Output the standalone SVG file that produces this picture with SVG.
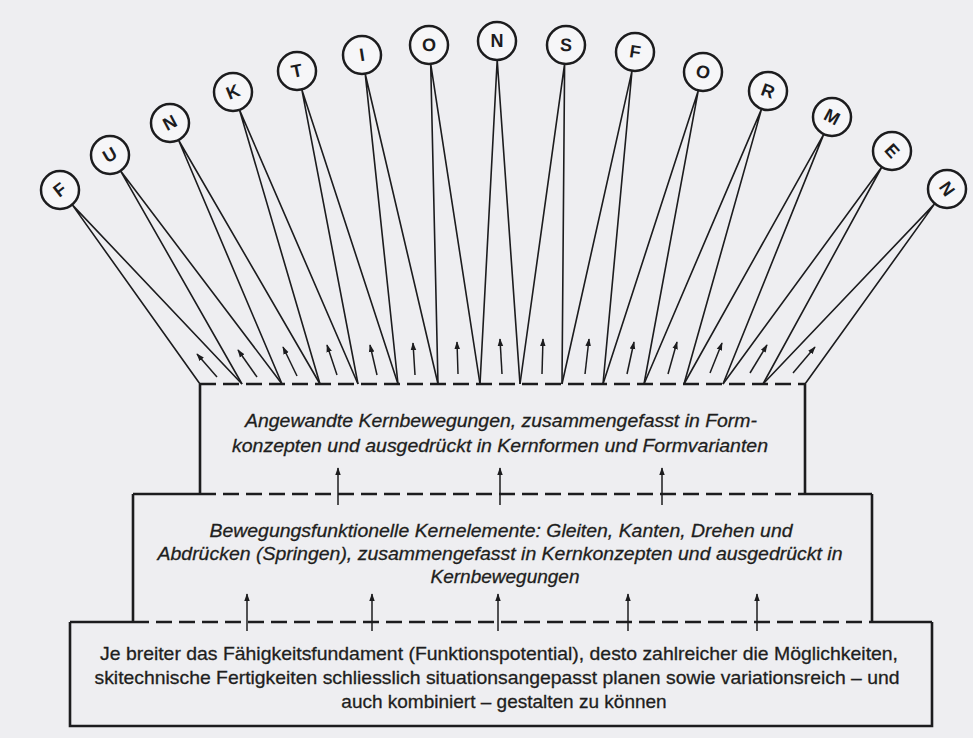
<svg xmlns="http://www.w3.org/2000/svg" width="973" height="738" viewBox="0 0 973 738">
  <defs>
    <marker id="ah" viewBox="0 0 10 10" refX="9" refY="5" markerWidth="8" markerHeight="8" markerUnits="userSpaceOnUse" orient="auto">
      <path d="M0,1.5 L10,5 L0,8.5 z" fill="#1c1c1e"/>
    </marker>
    <style>
      .box { fill: none; stroke: #1c1c1e; stroke-width: 2.6; }
      .dash { fill: none; stroke: #1c1c1e; stroke-width: 2.4; stroke-dasharray: 16 7; }
      .ray { stroke: #1c1c1e; stroke-width: 1.6; fill: none; }
      .arr { stroke: #1c1c1e; stroke-width: 1.5; fill: none; marker-end: url(#ah); }
      .node circle { fill: #f6f6f8; stroke: #1c1c1e; stroke-width: 2.5; }
      .node text { font-family: "Liberation Sans", Arial, sans-serif; font-weight: bold; font-size: 18px; fill: #1c1c1e; text-anchor: middle; dominant-baseline: central; }
      .it { font-family: "Liberation Sans", Arial, sans-serif; font-style: italic; font-size: 19px; fill: #1e1e20; stroke: #1e1e20; stroke-width: 0.3; text-anchor: middle; }
      .rg { font-family: "Liberation Sans", Arial, sans-serif; font-size: 19px; fill: #1e1e20; stroke: #1e1e20; stroke-width: 0.3; text-anchor: middle; }
    </style>
  </defs>

  <rect width="973" height="738" fill="#eeeef1"/>

  <!-- stepped levels -->
  <g id="level-top">
    <path class="box" d="M200,384 V494 M805,384 V494"/>
    <path class="dash" d="M200,384 H805"/>
    <text class="it" x="501" y="427" textLength="512" lengthAdjust="spacingAndGlyphs">Angewandte Kernbewegungen, zusammengefasst in Form-</text>
    <text class="it" x="500" y="452" textLength="536" lengthAdjust="spacingAndGlyphs">konzepten und ausgedrückt in Kernformen und Formvarianten</text>
  </g>
  <g id="level-middle">
    <path class="box" d="M133,494 H200 M805,494 H872 M133,494 V622 M872,494 V622"/>
    <path class="dash" d="M200,494 H805"/>
    <text class="it" x="501" y="537" textLength="583" lengthAdjust="spacingAndGlyphs">Bewegungsfunktionelle Kernelemente: Gleiten, Kanten, Drehen und</text>
    <text class="it" x="500" y="560" textLength="685" lengthAdjust="spacingAndGlyphs">Abdrücken (Springen), zusammengefasst in Kernkonzepten und ausgedrückt in</text>
    <text class="it" x="505" y="583">Kernbewegungen</text>
  </g>
  <g id="level-base">
    <path class="box" d="M70,622 H133 M872,622 H932 M70,622 V726 H932 V622"/>
    <path class="dash" d="M133,622 H872"/>
    <text class="rg" x="499" y="660" textLength="798" lengthAdjust="spacingAndGlyphs">Je breiter das Fähigkeitsfundament (Funktionspotential), desto zahlreicher die Möglichkeiten,</text>
    <text class="rg" x="497" y="684" textLength="805" lengthAdjust="spacingAndGlyphs">skitechnische Fertigkeiten schliesslich situationsangepasst planen sowie variationsreich – und</text>
    <text class="rg" x="504" y="708">auch kombiniert – gestalten zu können</text>
  </g>

  <!-- connectors: rays from the letters, upward arrows -->
  <g id="connectors">
    <path class="ray" d="M72.1,204.6 L200,384 M72.1,204.6 L242,384"/>
    <path class="ray" d="M120.5,170.8 L242,384 M120.5,170.8 L282,384"/>
    <path class="ray" d="M178.5,140 L282,384 M178.5,140 L320,384"/>
    <path class="ray" d="M239.5,109.9 L320,384 M239.5,109.9 L358,384"/>
    <path class="ray" d="M301.8,89.4 L358,384 M301.8,89.4 L398,384"/>
    <path class="ray" d="M365.2,73.7 L398,384 M365.2,73.7 L438,384"/>
    <path class="ray" d="M430.7,63.9 L438,384 M430.7,63.9 L480,384"/>
    <path class="ray" d="M497.2,60 L480,384 M497.2,60 L520,384"/>
    <path class="ray" d="M564.6,63.9 L520,384 M564.6,63.9 L562,384"/>
    <path class="ray" d="M632,70.8 L562,384 M632,70.8 L603,384"/>
    <path class="ray" d="M698.3,90.4 L603,384 M698.3,90.4 L644,384"/>
    <path class="ray" d="M761.6,108.9 L644,384 M761.6,108.9 L684,384"/>
    <path class="ray" d="M823.8,134.1 L684,384 M823.8,134.1 L723,384"/>
    <path class="ray" d="M881.8,167 L723,384 M881.8,167 L763,384"/>
    <path class="ray" d="M934.8,203.6 L763,384 M934.8,203.6 L805,384"/>

    <line class="arr" x1="217" y1="377" x2="197" y2="354"/>
    <line class="arr" x1="257" y1="377" x2="238" y2="350"/>
    <line class="arr" x1="297" y1="376" x2="283" y2="347"/>
    <line class="arr" x1="337" y1="375" x2="327" y2="345"/>
    <line class="arr" x1="377" y1="375" x2="370" y2="345"/>
    <line class="arr" x1="415" y1="375" x2="413" y2="343"/>
    <line class="arr" x1="458" y1="374" x2="457" y2="342"/>
    <line class="arr" x1="502" y1="374" x2="500" y2="339"/>
    <line class="arr" x1="542" y1="374" x2="543" y2="339"/>
    <line class="arr" x1="585" y1="374" x2="589" y2="339"/>
    <line class="arr" x1="627" y1="374" x2="634" y2="342"/>
    <line class="arr" x1="668" y1="374" x2="677" y2="342"/>
    <line class="arr" x1="710" y1="373" x2="722" y2="343"/>
    <line class="arr" x1="750" y1="373" x2="767" y2="345"/>
    <line class="arr" x1="793" y1="373" x2="815" y2="347"/>

    <line class="arr" x1="338" y1="505" x2="338" y2="468"/>
    <line class="arr" x1="500" y1="505" x2="500" y2="468"/>
    <line class="arr" x1="662" y1="505" x2="662" y2="468"/>

    <line class="arr" x1="247" y1="631" x2="247" y2="594"/>
    <line class="arr" x1="372" y1="631" x2="372" y2="594"/>
    <line class="arr" x1="498" y1="631" x2="498" y2="594"/>
    <line class="arr" x1="628" y1="631" x2="628" y2="594"/>
    <line class="arr" x1="757" y1="631" x2="757" y2="594"/>
  </g>

  <!-- letter nodes -->
  <g id="n1" class="node"><circle cx="60" cy="190" r="19"/><text transform="translate(60,190) rotate(-38)">F</text></g>
  <g id="n2" class="node"><circle cx="110" cy="155" r="19"/><text transform="translate(110,155) rotate(-30)">U</text></g>
  <g id="n3" class="node"><circle cx="170" cy="123" r="19"/><text transform="translate(170,123) rotate(-28)">N</text></g>
  <g id="n4" class="node"><circle cx="233" cy="92" r="19"/><text transform="translate(233,92) rotate(-22)">K</text></g>
  <g id="n5" class="node"><circle cx="297" cy="71" r="19"/><text transform="translate(297,71) rotate(-12)">T</text></g>
  <g id="n6" class="node"><circle cx="362" cy="55" r="19"/><text transform="translate(362,55) rotate(-9)">I</text></g>
  <g id="n7" class="node"><circle cx="429" cy="45" r="19"/><text transform="translate(429,45) rotate(-4)">O</text></g>
  <g id="n8" class="node"><circle cx="497" cy="41" r="19"/><text transform="translate(497,41)">N</text></g>
  <g id="n9" class="node"><circle cx="566" cy="45" r="19"/><text transform="translate(566,45) rotate(3)">S</text></g>
  <g id="n10" class="node"><circle cx="635" cy="52" r="19"/><text transform="translate(635,52) rotate(9)">F</text></g>
  <g id="n11" class="node"><circle cx="703" cy="72" r="19"/><text transform="translate(703,72) rotate(14)">O</text></g>
  <g id="n12" class="node"><circle cx="768" cy="91" r="19"/><text transform="translate(768,91) rotate(20)">R</text></g>
  <g id="n13" class="node"><circle cx="832" cy="117" r="19"/><text transform="translate(832,117) rotate(28)">M</text></g>
  <g id="n14" class="node"><circle cx="892" cy="151" r="19"/><text transform="translate(892,151) rotate(48)">E</text></g>
  <g id="n15" class="node"><circle cx="947" cy="189" r="19"/><text transform="translate(947,189) rotate(55)">N</text></g>
</svg>
